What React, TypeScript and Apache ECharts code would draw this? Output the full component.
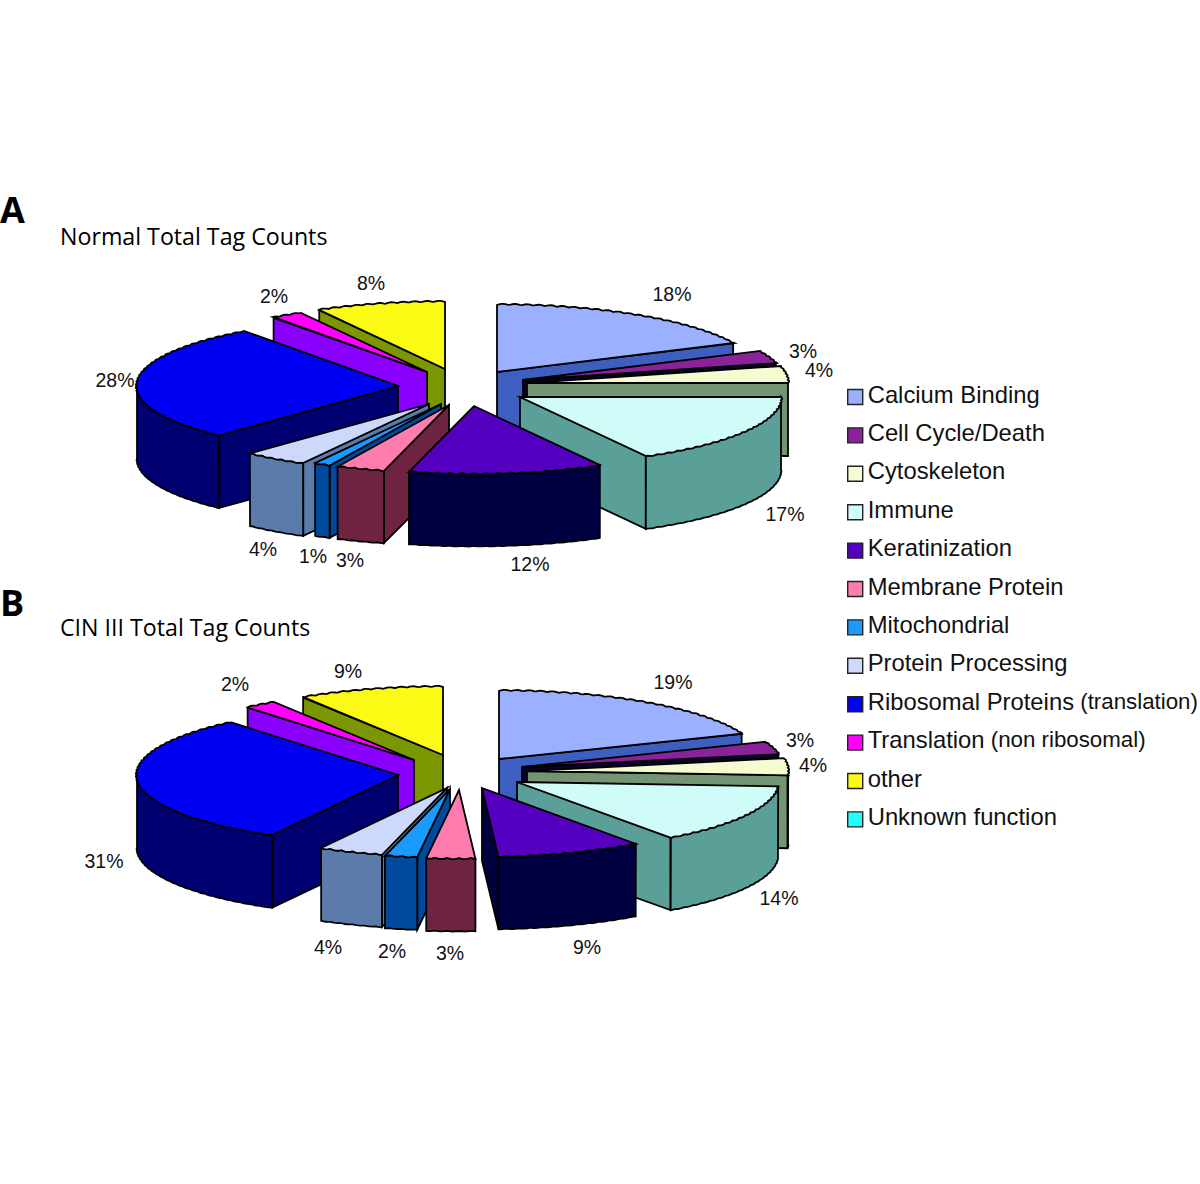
import React, { useEffect, useRef } from "react";
import * as echarts from "echarts";

// ---- data -----------------------------------------------------------------
const categories = [
  "Calcium Binding", "Cell Cycle/Death", "Cytoskeleton", "Immune", "Keratinization",
  "Membrane Protein", "Mitochondrial", "Protein Processing",
  "Ribosomal Proteins (translation)", "Translation (non ribosomal)", "other", "Unknown function",
];
const normalValues = [18, 3, 4, 17, 12, 3, 1, 4, 28, 2, 8];
const cinValues = [19, 3, 4, 14, 9, 3, 2, 4, 31, 2, 9];

// ---- styles ----------------------------------------------------------------
const topColors = ["#9BB0FF", "#8A2299", "#F5FCD0", "#CFFCF8", "#5500C0", "#FF7DAE", "#1A99FF", "#CDD9FB", "#0000F5", "#FF00FF", "#FAFA14", "#22FFFF"];
const wallColors = ["#3F5FC0", "#0A0030", "#739573", "#5A9F98", "#000040", "#6E2440", "#004A9E", "#5B7CAA", "#000070", "#8A00FF", "#7A9600", "#119999"];

// ---- layout: explode offset of each slice from its pie's centre, label spots -
const RX = 261;
const RY_A = 67;
const RY_B = 68;
const DEPTH = 73;
const centerA = [465, 385];
const centerB = [465, 770];
const explodeA = [[32, -13], [58, -5], [62, -2], [55, 12], [9, 21], [-16, 20], [-24, 19], [-36, 19], [-67, 1], [-38, -13], [-20, -16]];
const explodeB = [[34, -11], [57, -3], [62, 1], [52, 12], [17, 18], [-6, 20], [-15, 19], [-18, 18], [-67, 5], [-51, -10], [-22, -15]];
const labelsA = [[672, 294], [803, 351], [819, 370], [785, 514], [530, 564], [350, 560], [313, 556], [263, 549], [115, 380], [274, 296], [371, 283]];
const labelsB = [[673, 682], [800, 740], [813, 765], [779, 898], [587, 947], [450, 953], [392, 951], [328, 947], [104, 861], [235, 684], [348, 671]];

const rad = (p: number) => (p / 100) * Math.PI * 2;

function makeRenderItem(center: number[], explode: number[][], labels: number[][], ry: number) {
  return (_p: any, api: any) => {
    const value = api.value(0) as number;
    const startPct = api.value(1) as number;
    const idx = api.value(2) as number;
    const order = api.value(3) as number;
    const ax = center[0] + explode[idx][0];
    const ay = center[1] + explode[idx][1];
    const ts = rad(startPct);
    const te = rad(startPct + value);
    const point = (t: number, drop: number, bump: number) => {
      const b = bump * Math.abs(Math.sin(t * 68));
      return [ax + (RX + b) * Math.sin(t), ay - (ry + b) * Math.cos(t) + drop];
    };
    const arc = (a: number, b: number, drop: number, bump: number) => {
      const n = Math.max(2, Math.ceil((b - a) / 0.008));
      const out: number[][] = [];
      for (let i = 0; i <= n; i++) out.push(point(a + ((b - a) * i) / n, drop, bump));
      return out;
    };
    const children: any[] = [];
    let z = order * 10;
    const add = (pts: number[][], fill: string) =>
      children.push({
        type: "polygon",
        z2: z++,
        shape: { points: pts },
        style: { fill, stroke: "#000", lineWidth: 1.8, lineJoin: "miter", miterLimit: 6 },
      });
    const wall = wallColors[idx];
    const face = (t: number) => {
      const p = point(t, 0, 0);
      add([[ax, ay], p, [p[0], p[1] + DEPTH], [ax, ay + DEPTH]], wall);
    };
    if (Math.sin(ts) < -0.001) face(ts);
    if (Math.sin(te) > 0.001) face(te);
    const wa = Math.max(ts, Math.PI / 2);
    const wb = Math.min(te, (Math.PI * 3) / 2);
    if (wb > wa) add([...arc(wa, wb, 0, 0.8), ...arc(wa, wb, DEPTH, 0.5).reverse()], wall);
    add([[ax, ay], ...arc(ts, te, 0, 1.2)], topColors[idx]);
    children.push({
      type: "text",
      z2: 500,
      style: {
        text: `${value}%`,
        x: labels[idx][0],
        y: labels[idx][1],
        align: "center",
        verticalAlign: "middle",
        fontFamily: "Liberation Sans",
        fontSize: 19.5,
        fill: "#111",
      },
    });
    return { type: "group", children };
  };
}

function pieRows(values: number[]) {
  let cum = 0;
  const rows = values.map((v, i) => {
    const row = [v, cum, i];
    cum += v;
    return row;
  });
  return rows
    .slice()
    .sort((a, b) => Math.cos(rad(b[1] + b[0] / 2)) - Math.cos(rad(a[1] + a[0] / 2)))
    .map((r, order) => [...r, order]);
}

export default function App() {
  const ref = useRef<HTMLDivElement>(null);
  useEffect(() => {
    const chart = echarts.init(ref.current!, undefined, { renderer: "svg" });
    const titleText = (text: string, left: number, top: number, fontSize: number, fontWeight: any) => ({
      text,
      left,
      top,
      padding: 0,
      textStyle: { fontFamily: "Open Sans", fontSize, fontWeight, color: "#000" },
    });
    chart.setOption({
      animation: false,
      backgroundColor: "#fff",
      title: [
        titleText("A", 0, 191, 36, 700),
        titleText("Normal Total Tag Counts", 60, 224, 23.2, 400),
        titleText("B", 0, 584, 36, 700),
        titleText("CIN III Total Tag Counts", 60, 615, 23.2, 400),
      ],
      legend: {
        data: categories,
        orient: "vertical",
        left: 847,
        top: 382,
        padding: 0,
        icon: "rect",
        itemWidth: 15,
        itemHeight: 15,
        itemGap: 14.4,
        itemStyle: { borderColor: "#222", borderWidth: 1.4 },
        selectedMode: false,
        formatter: (name: string) => {
          const i = name.indexOf(" (");
          return i < 0 ? `{a|${name}}` : `{a|${name.slice(0, i)}}{b|${name.slice(i)}}`;
        },
        textStyle: {
          padding: [0, 0, 6, 0],
          rich: {
            a: { fontFamily: "Liberation Sans", fontSize: 23.8, lineHeight: 26, color: "#111" },
            b: { fontFamily: "Liberation Sans", fontSize: 22.3, lineHeight: 26, color: "#111" },
          },
        },
      },
      series: [
        ...categories.map((name, i) => ({
          type: "custom",
          name,
          coordinateSystem: "none",
          itemStyle: { color: topColors[i] },
          renderItem: () => null,
          data: [],
        })),
        {
          type: "custom",
          name: "Normal",
          coordinateSystem: "none",
          silent: true,
          renderItem: makeRenderItem(centerA, explodeA, labelsA, RY_A),
          data: pieRows(normalValues),
        },
        {
          type: "custom",
          name: "CIN III",
          coordinateSystem: "none",
          silent: true,
          renderItem: makeRenderItem(centerB, explodeB, labelsB, RY_B),
          data: pieRows(cinValues),
        },
      ],
    });
    return () => chart.dispose();
  }, []);
  return <div ref={ref} style={{ position: "absolute", left: 0, top: 0, width: 1200, height: 1184 }} />;
}
